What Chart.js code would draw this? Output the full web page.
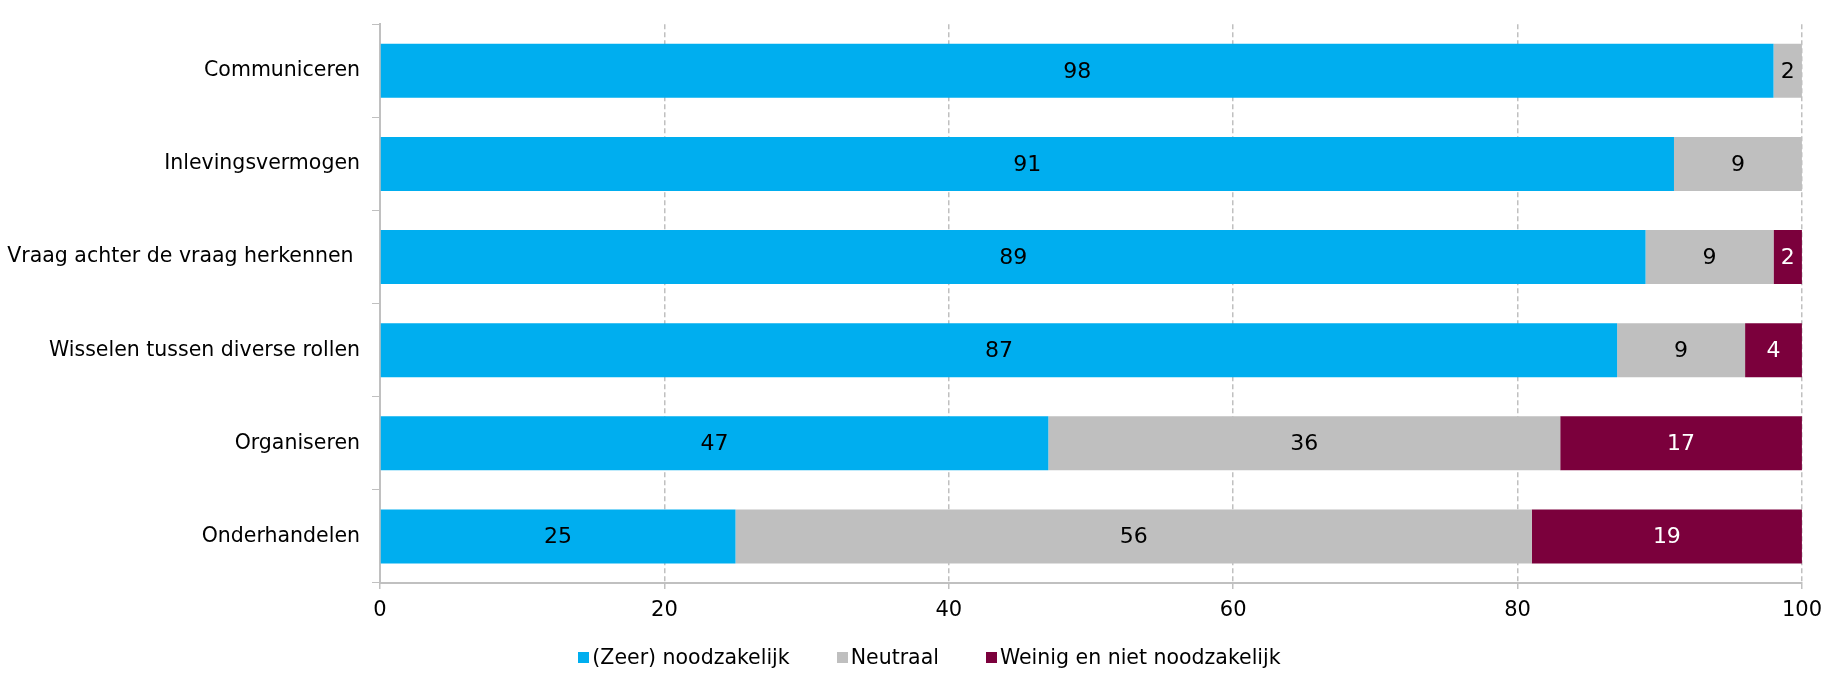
<!DOCTYPE html>
<html>
<head>
<meta charset="utf-8">
<script src="https://cdn.jsdelivr.net/npm/chart.js@4/dist/chart.umd.min.js"></script>
<style>
  html, body { margin: 0; padding: 0; background: #fff; }
  #wrap { position: relative; width: 1829px; height: 673px; }
  #legend {
    position: absolute; left: 18px; right: 0; top: 645px;
    display: flex; justify-content: center; gap: 35px;
    font: 20.5px "DejaVu Sans", sans-serif; color: #000;
  }
  #legend .item { display: flex; align-items: center; padding-left: 12px; }
  #legend .box { width: 11px; height: 11px; margin-right: 3px; }
</style>
</head>
<body>
<div id="wrap">
  <canvas id="chart" width="1829" height="673"></canvas>
  <div id="legend"></div>
</div>
<script>
// categories and percentages per answer
const categories = [
  "Communiceren",
  "Inlevingsvermogen",
  "Vraag achter de vraag herkennen ",
  "Wisselen tussen diverse rollen",
  "Organiseren",
  "Onderhandelen"
];
const zeerNoodzakelijk = [98, 91, 89, 87, 47, 25];
const neutraal = [2, 9, 9, 9, 36, 56];
const weinigNiet = [null, null, 2, 4, 17, 19];
const xTicks = [0, 20, 40, 60, 80, 100];

const gridGrey = "#c0c0c0";
const fontFamily = '"DejaVu Sans", sans-serif';

// writes the value in the middle of each bar segment
const segmentLabels = {
  id: "segmentLabels",
  afterDatasetsDraw(chart) {
    const ctx = chart.ctx;
    ctx.save();
    ctx.font = "22px " + fontFamily;
    ctx.textAlign = "center";
    ctx.textBaseline = "middle";
    chart.data.datasets.forEach((ds, i) => {
      const meta = chart.getDatasetMeta(i);
      meta.data.forEach((bar, j) => {
        const v = ds.data[j];
        if (v === null || v === undefined) return;
        const p = bar.getProps(["x", "y", "base"], true);
        ctx.fillStyle = ds.labelColor;
        ctx.fillText(String(v), (p.x + p.base) / 2, p.y + 1);
      });
    });
    ctx.restore();
  }
};

// html legend under the chart
const htmlLegend = {
  id: "htmlLegend",
  afterUpdate(chart) {
    const el = document.getElementById("legend");
    el.innerHTML = "";
    chart.data.datasets.forEach(ds => {
      const item = document.createElement("div");
      item.className = "item";
      const box = document.createElement("span");
      box.className = "box";
      box.style.background = ds.backgroundColor;
      const txt = document.createElement("span");
      txt.textContent = ds.label;
      item.appendChild(box);
      item.appendChild(txt);
      el.appendChild(item);
    });
  }
};

new Chart(document.getElementById("chart"), {
  type: "bar",
  data: {
    labels: categories,
    datasets: [
      { label: "(Zeer) noodzakelijk", data: zeerNoodzakelijk, backgroundColor: "#00aeef", labelColor: "#000" },
      { label: "Neutraal", data: neutraal, backgroundColor: "#bfbfbf", labelColor: "#000" },
      { label: "Weinig en niet noodzakelijk", data: weinigNiet, backgroundColor: "#7b003c", labelColor: "#fff" }
    ]
  },
  options: {
    indexAxis: "y",
    responsive: false,
    animation: false,
    categoryPercentage: 1,
    barPercentage: 0.58,
    layout: { padding: { top: 13, right: 22, left: 0, bottom: 0 } },
    plugins: {
      legend: { display: false },
      tooltip: { enabled: false }
    },
    scales: {
      x: {
        stacked: true,
        min: 0,
        max: 100,
        afterBuildTicks(scale) {
          scale.ticks = xTicks.map(v => ({ value: v }));
        },
        afterFit(scale) { scale.height = 90; },
        border: { color: gridGrey, width: 2, dash: [5, 3] },
        grid: {
          color: gridGrey,
          lineWidth: 1.5,
          tickLength: 8,
          tickColor: gridGrey,
          tickBorderDash: [5, 3]
        },
        ticks: {
          color: "#000",
          padding: 7,
          maxRotation: 0,
          font: { family: fontFamily, size: 21 }
        }
      },
      y: {
        stacked: true,
        afterFit(scale) { scale.width = 380; },
        border: { color: gridGrey, width: 2 },
        grid: {
          offset: true,
          drawOnChartArea: false,
          tickLength: 8,
          color: gridGrey
        },
        ticks: {
          color: "#000",
          padding: 12,
          font: { family: fontFamily, size: 20.5 }
        }
      }
    }
  },
  plugins: [segmentLabels, htmlLegend]
});
</script>
</body>
</html>
